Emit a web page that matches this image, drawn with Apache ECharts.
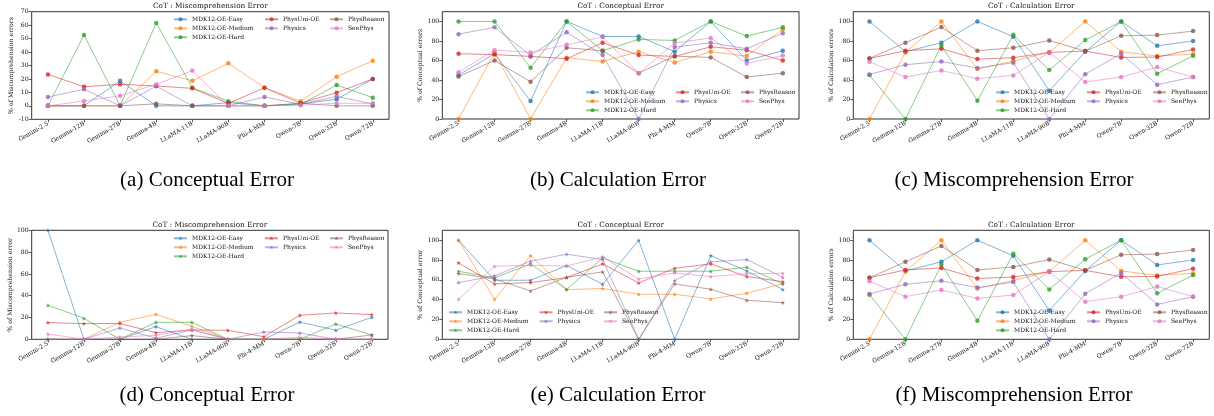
<!DOCTYPE html>
<html>
<head>
<meta charset="utf-8">
<script src="https://cdn.jsdelivr.net/npm/echarts@6/dist/echarts.min.js"></script>
<style>
html,body{margin:0;padding:0;background:#fff;}
#chart{width:1214px;height:416px;}
</style>
</head>
<body>
<div id="chart"></div>
<script>
// ---------- DATA ----------
const categories = ['Gemini-2.5','Gemma-12B','Gemma-27B','Gemma-4B','LLaMA-11B','LLaMA-90B','Phi-4-MM','Qwen-7B','Qwen-32B','Qwen-72B'];
const seriesNames = ['MDK12-OE-Easy','MDK12-OE-Medium','MDK12-OE-Hard','PhysUni-OE','Physics','PhysReason','SeePhys'];

const yTicksA = [-10,0,10,20,30,40,50,60,70];
const yTicks110 = [0,20,40,60,80,100];
const yTicksD = [0,20,40,60,80,100];

// (a) CoT : Miscomprehension Error
const aEasy      = [0, 0, 18.6, 0, 0, 2.4, 0, 1.5, 4.9, 20];
const aMedium    = [0, 0, 0, 25.7, 18.6, 31.6, 13.5, 3.4, 21.7, 33.5];
const aHard      = [0, 52.7, 0, 61.6, 13.5, 3.4, 0, 1, 15.5, 6.1];
const aPhysUni   = [23.4, 14.2, 16, 14.8, 13, 1.7, 13.5, 2, 9.8, 20];
const aPhysics   = [6.6, 12.3, 0, 14.6, 0, 0, 6.6, 1.2, 7, 1.4];
const aPhysReason= [0, 0, 0, 1.5, 0, 0, 0, 2, 0, 0];
const aSeePhys   = [0, 3.6, 7.5, 16, 26.2, 0, 0, 0.5, 1.9, 1.9];

// (b) CoT : Conceptual Error
const bEasy      = [45, 67, 18.4, 100, 84.6, 84.6, 69, 100, 60, 70];
const bMedium    = [0, 68, 0, 62.8, 59, 69, 58, 69, 64.5, 92];
const bHard      = [100, 100, 52.6, 100, 70, 81.6, 80.5, 100, 85, 94];
const bPhysUni   = [67, 66, 64.2, 61.8, 78.2, 65.5, 64.2, 74, 70.6, 60];
const bPhysics   = [87, 94, 65.2, 89, 65.5, 0, 73.7, 78.2, 72, 88];
const bPhysReason= [43.5, 60, 38.2, 73, 70, 47, 64.5, 63.1, 43, 47];
const bSeePhys   = [48, 70.6, 68.3, 76, 84, 47, 78, 83, 57, 65];

// (c) CoT : Calculation Error
const cEasy      = [100, 69, 78.2, 100, 84.3, 29, 69, 100, 75, 80];
const cMedium    = [0, 68.3, 100, 51.2, 59.4, 68.3, 100, 69, 64.5, 66.5];
const cHard      = [45, 0, 75.4, 18.8, 86.3, 50.2, 80.9, 100, 46.4, 64.8];
const cPhysUni   = [62.1, 70, 72, 61.4, 62.8, 68.3, 69.6, 63.1, 63.5, 71.3];
const cPhysics   = [45.7, 55.6, 59, 52.2, 57.7, 0, 46, 66.9, 35.2, 43];
const cPhysReason= [62.1, 78.2, 94.2, 70, 73, 80.5, 69.6, 85.3, 86, 90.1];
const cSeePhys   = [58.7, 43, 49.8, 41.3, 44.7, 68.3, 37.9, 43, 53.2, 43];

// (d) CoT : Miscomprehension Error
const dEasy      = [100, 0, 0, 11.6, 0, 0, 0, 15.9, 8.3, 20.2];
const dMedium    = [0, 0, 15.6, 22.9, 11.9, 0, 0, 0, 0, 0];
const dHard      = [31.2, 19.3, 0, 15.6, 15.6, 0, 0, 0, 14, 4];
const dPhysUni   = [15.3, 14.4, 14.5, 6.1, 8.6, 8.3, 2.4, 22, 24.2, 22.6];
const dPhysics   = [0, 0, 10.4, 1, 8.6, 0, 6.7, 5.8, 0, 0];
const dPhysReason= [0, 0, 0, 0, 3.4, 0, 0, 0, 0, 4];
const dSeePhys   = [4.9, 0, 2.1, 3.7, 9.2, 0, 0, 1.8, 0, 0];

// (e) CoT : Conceptual Error
const eEasy      = [100, 59.6, 59.6, 74.4, 55.6, 100, 0, 84.5, 69, 50.2];
const eMedium    = [100, 40.4, 84.5, 50.2, 51.2, 45.5, 45.5, 40.7, 46.5, 56.2];
const eHard      = [68.7, 62, 76.1, 50.2, 82.2, 68.7, 68.7, 68.7, 72.7, 55.9];
const ePhysUni   = [77.1, 55.9, 57.2, 62.3, 76.1, 56.9, 71.7, 76.1, 63.3, 58.2];
const ePhysics   = [57.2, 64, 78.8, 85.9, 80.5, 0, 59.3, 78.1, 80.5, 62.6];
const ePhysReason= [66.3, 60.9, 48.8, 62.6, 68, 0, 55.9, 50.5, 39.4, 37];
const eSeePhys   = [40.4, 73.7, 74.7, 74, 83.2, 60.9, 67, 63.3, 66, 66.7];

// (f) CoT : Calculation Error
const fEasy      = [100, 69, 78.2, 100, 84.3, 29, 69, 100, 75, 80];
const fMedium    = [0, 68.3, 100, 51.2, 59.4, 68.3, 100, 69, 64.5, 66.5];
const fHard      = [45, 0, 75.4, 18.8, 86.3, 50.2, 80.9, 100, 46.4, 64.8];
const fPhysUni   = [62.1, 70, 72, 61.4, 62.8, 68.3, 69.6, 63.1, 63.5, 71.3];
const fPhysics   = [45.7, 55.6, 59, 52.2, 57.7, 0, 46, 66.9, 35.2, 43];
const fPhysReason= [62.1, 78.2, 94.2, 70, 73, 80.5, 69.6, 85.3, 86, 90.1];
const fSeePhys   = [58.7, 43, 49.8, 41.3, 44.7, 68.3, 37.9, 43, 53.2, 43];

// ---------- STYLE / LAYOUT ----------
const colors = ['#1f77b4','#ff7f0e','#2ca02c','#d62728','#9467bd','#8c564b','#e377c2'];
const STAR = 'path://M50,0 L61.8,35.5 L99,35.5 L69,57.5 L80.5,93 L50,71 L19.5,93 L31,57.5 L1,35.5 L38.2,35.5 Z';
const FONT = 'DejaVu Serif';
const CAPFONT = 'Liberation Serif';

const panels = [
  {key:'a', grid:{left:31.7, top:11.7, width:357.3, height:107.6}, yMin:-10, yMax:70, yTicks:yTicksA,
   title:'CoT : Miscomprehension Error', yName:'% of Miscomprehension errors', caption:'(a) Conceptual Error',
   capX:207, capY:180, symbol:'circle', symSize:4.5, legLeft:[173,264,329], legTop:16.3,
   data:[aEasy,aMedium,aHard,aPhysUni,aPhysics,aPhysReason,aSeePhys]},
  {key:'b', grid:{left:442.3, top:11.7, width:356.7, height:107.3}, yMin:0, yMax:110, yTicks:yTicks110,
   title:'CoT : Conceptual Error', yName:'% of Conceptual errors', caption:'(b) Calculation Error',
   capX:618, capY:180, symbol:'circle', symSize:4.5, legLeft:[585,675,740], legTop:89.3,
   data:[bEasy,bMedium,bHard,bPhysUni,bPhysics,bPhysReason,bSeePhys]},
  {key:'c', grid:{left:853.3, top:11.7, width:356, height:107.3}, yMin:0, yMax:110, yTicks:yTicks110,
   title:'CoT : Calculation Error', yName:'% of Calculation errors', caption:'(c) Miscomprehension Error',
   capX:1014, capY:180, symbol:'circle', symSize:4.5, legLeft:[995,1086,1152], legTop:89.3,
   data:[cEasy,cMedium,cHard,cPhysUni,cPhysics,cPhysReason,cSeePhys]},
  {key:'d', grid:{left:31.7, top:230.3, width:356.3, height:109}, yMin:0, yMax:100, yTicks:yTicksD,
   title:'CoT : Miscomprehension Error', yName:'% of Miscomprehension error', caption:'(d) Conceptual Error',
   capX:207, capY:395, symbol:STAR, symSize:4.5, legLeft:[173,264,329], legTop:235.3,
   data:[dEasy,dMedium,dHard,dPhysUni,dPhysics,dPhysReason,dSeePhys]},
  {key:'e', grid:{left:442.3, top:230.3, width:356.7, height:109}, yMin:0, yMax:110, yTicks:yTicks110,
   title:'CoT : Conceptual Error', yName:'% of Conceptual error', caption:'(e) Calculation Error',
   capX:618, capY:395, symbol:STAR, symSize:4.5, legLeft:[448,538.5,603], legTop:309.3,
   data:[eEasy,eMedium,eHard,ePhysUni,ePhysics,ePhysReason,eSeePhys]},
  {key:'f', grid:{left:853.3, top:230.3, width:356, height:109}, yMin:0, yMax:110, yTicks:yTicks110,
   title:'CoT : Calculation Error', yName:'% of Calculation errors', caption:'(f) Miscomprehension Error',
   capX:1014, capY:395, symbol:'circle', symSize:4.5, legLeft:[995,1086,1152], legTop:309.3,
   data:[fEasy,fMedium,fHard,fPhysUni,fPhysics,fPhysReason,fSeePhys]}
];

const catIdx = categories.map((c,i)=>i);
const grids=[], xAxes=[], yAxes=[], series=[], legends=[], graphics=[];

panels.forEach((p, pi) => {
  grids.push(Object.assign({show:true, borderColor:'#333', borderWidth:1, backgroundColor:'transparent', containLabel:false, outerBoundsMode:'none'}, p.grid));
  xAxes.push({
    type:'value', gridIndex:pi, min:-0.45, max:9.45,
    axisLine:{show:false, onZero:false},
    axisTick:{show:true, length:3, customValues:catIdx, lineStyle:{color:'#333', width:0.8}},
    axisLabel:{show:true, customValues:catIdx, rotate:30, margin:4, fontSize:6, fontFamily:FONT, color:'#111',
      formatter:(v)=>categories[Math.round(v)]},
    splitLine:{show:false}
  });
  yAxes.push({
    type:'value', gridIndex:pi, min:p.yMin, max:p.yMax,
    name:p.yName, nameLocation:'middle', nameGap:17, nameRotate:90,
    nameTextStyle:{fontSize:6.2, fontFamily:FONT, color:'#111'},
    axisLine:{show:false, onZero:false},
    axisTick:{show:true, length:3, customValues:p.yTicks, lineStyle:{color:'#333', width:0.8}},
    axisLabel:{show:true, customValues:p.yTicks, margin:3, fontSize:6.2, fontFamily:FONT, color:'#111'},
    splitLine:{show:false}
  });
  seriesNames.forEach((n, si) => {
    series.push({
      type:'line', name:n + '|' + p.key, xAxisIndex:pi, yAxisIndex:pi,
      data:p.data[si].map((v,i)=>[catIdx[i], v]),
      symbol:p.symbol, symbolSize:p.symSize, showSymbol:true,
      lineStyle:{color:colors[si], width:1, opacity:0.55},
      itemStyle:{color:colors[si], opacity:0.8},
      emphasis:{disabled:true}, animation:false, z:2+si
    });
  });
  const cols = [seriesNames.slice(0,3), seriesNames.slice(3,5), seriesNames.slice(5,7)];
  cols.forEach((col, ci) => {
    legends.push({
      orient:'vertical', left:p.legLeft[ci], top:p.legTop, padding:0,
      itemWidth:13, itemHeight:5, itemGap:3,
      data:col.map(n=>n + '|' + p.key),
      formatter:(name)=>name.split('|')[0],
      textStyle:{fontSize:6, fontFamily:FONT, color:'#111'},
      selectedMode:false
    });
  });
  const cx = p.grid.left + p.grid.width/2;
  graphics.push({type:'text', x:cx, y:p.grid.top - 5.5,
    style:{text:p.title, font:'7.3px "'+FONT+'"', fill:'#111', align:'center', verticalAlign:'middle'}});
  graphics.push({type:'text', x:p.capX, y:p.capY,
    style:{text:p.caption, font:'21px "'+CAPFONT+'"', fill:'#000', align:'center', verticalAlign:'middle'}});
});

const chart = echarts.init(document.getElementById('chart'), null, {renderer:'canvas'});
chart.setOption({
  animation:false,
  backgroundColor:'#fff',
  textStyle:{fontFamily:FONT},
  grid:grids, xAxis:xAxes, yAxis:yAxes, series:series, legend:legends,
  graphic:{elements:graphics}
});
</script>
</body>
</html>
